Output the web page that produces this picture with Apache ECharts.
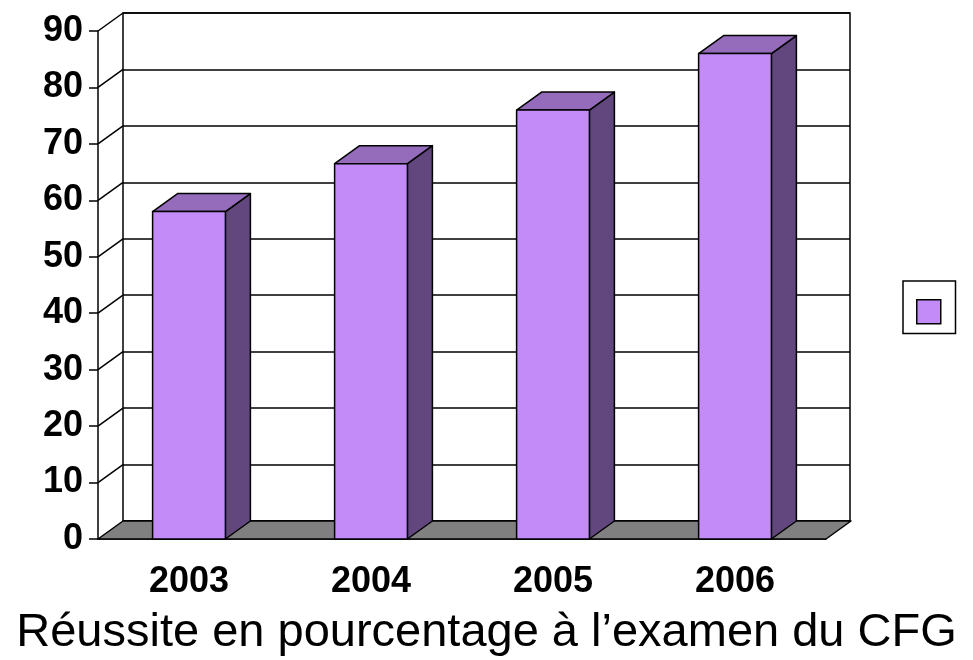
<!DOCTYPE html>
<html>
<head>
<meta charset="utf-8">
<script src="https://cdn.jsdelivr.net/npm/echarts@6/dist/echarts.min.js"></script>
<style>
  html, body { margin: 0; padding: 0; background: #fff; }
  #chart { width: 973px; height: 660px; }
</style>
</head>
<body>
<div id="chart"></div>
<script>
// data
const years = ['2003', '2004', '2005', '2006'];
const success = [58, 66.5, 76, 86];
const wallTicks = [10, 20, 30, 40, 50, 60, 70, 80, 90];

// 3d look: depth offset and face colours
const DX = 25, DY = -18;
const FRONT = '#C38BF7', TOP = '#956BBB', SIDE = '#62477E';
const FONT = '"Liberation Sans", Arial, sans-serif';
const edge = { stroke: '#000', lineWidth: 1.5, lineJoin: 'round' };

let chart = echarts.init(document.getElementById('chart'));

function renderBar(params, api) {
  const idx = api.value(0);
  const top = api.coord([idx, api.value(1)]);
  const base = api.coord([idx, 0]);
  const w = api.size([1, 0])[0] * 0.4;
  const x0 = top[0] - w / 2, x1 = top[0] + w / 2;
  const yt = top[1], yb = base[1];
  return {
    type: 'group',
    children: [
      { type: 'polygon', shape: { points: [[x1, yb], [x1, yt], [x1 + DX, yt + DY], [x1 + DX, yb + DY]] }, style: Object.assign({ fill: SIDE }, edge) },
      { type: 'polygon', shape: { points: [[x0, yt], [x0 + DX, yt + DY], [x1 + DX, yt + DY], [x1, yt]] }, style: Object.assign({ fill: TOP }, edge) },
      { type: 'rect', shape: { x: x0, y: yt, width: w, height: yb - yt }, style: Object.assign({ fill: FRONT }, edge) }
    ]
  };
}

function renderFloor(params, api) {
  const cs = params.coordSys;
  const y = api.coord([0, 0])[1];
  const xl = cs.x, xr = cs.x + cs.width;
  return {
    type: 'polygon',
    shape: { points: [[xl, y], [xr, y], [xr + DX, y + DY], [xl + DX, y + DY]] },
    style: Object.assign({ fill: '#808080' }, edge)
  };
}

function renderSideLine(params, api) {
  const cs = params.coordSys;
  const y = api.coord([0, api.value(1)])[1];
  return {
    type: 'line',
    shape: { x1: cs.x, y1: y, x2: cs.x + DX, y2: y + DY },
    style: { stroke: '#000', lineWidth: 1.5 }
  };
}

let option = {
  animation: false,
  backgroundColor: '#fff',
  title: {
    text: 'Réussite en pourcentage à l’examen du CFG',
    left: 'center',
    top: 610,
    padding: [0, 0, 0, 10],
    textStyle: { fontFamily: FONT, fontSize: 47, fontWeight: 'normal', color: '#000' }
  },
  legend: {
    left: 903,
    top: 281,
    orient: 'vertical',
    padding: [18, 14, 9, 13],
    itemWidth: 24,
    itemHeight: 24,
    borderColor: '#000',
    borderWidth: 1.5,
    backgroundColor: '#fff',
    formatter: function () { return ''; },
    data: [{ name: 'Réussite', icon: 'rect' }],
    itemStyle: { color: FRONT, borderColor: '#000', borderWidth: 1.5 }
  },
  grid: [
    { left: 98, right: 147, top: 31, bottom: 121 },
    { left: 123, right: 123, top: 13, bottom: 139, show: true, borderColor: '#000', borderWidth: 1.5, backgroundColor: 'transparent' }
  ],
  xAxis: [
    {
      type: 'category',
      gridIndex: 0,
      data: years,
      axisLine: { lineStyle: { color: '#000', width: 1.5 } },
      axisTick: { length: 9, lineStyle: { color: '#000', width: 1.5 } },
      axisLabel: { fontFamily: FONT, fontSize: 36, fontWeight: 'bold', color: '#000', margin: 25 }
    },
    { type: 'category', gridIndex: 1, data: years, show: false }
  ],
  yAxis: [
    {
      type: 'value',
      gridIndex: 0,
      min: 0,
      max: 90,
      interval: 10,
      axisLine: { show: true, lineStyle: { color: '#000', width: 1.5 } },
      axisTick: { show: true, length: 9, lineStyle: { color: '#000', width: 1.5 } },
      splitLine: { show: false },
      axisLabel: { fontFamily: FONT, fontSize: 36, fontWeight: 'bold', color: '#000', margin: 15 }
    },
    {
      type: 'value',
      gridIndex: 1,
      min: 0,
      max: 90,
      interval: 10,
      axisLine: { show: false },
      axisTick: { show: false },
      axisLabel: { show: false },
      splitLine: { show: true, lineStyle: { color: '#000', width: 1.5 } }
    }
  ],
  series: [
    {
      type: 'custom',
      name: 'floor',
      xAxisIndex: 0,
      yAxisIndex: 0,
      z: 1,
      silent: true,
      renderItem: renderFloor,
      data: [[0, 0]]
    },
    {
      type: 'custom',
      name: 'side',
      xAxisIndex: 0,
      yAxisIndex: 0,
      z: 1,
      silent: true,
      renderItem: renderSideLine,
      encode: { x: 0, y: 1 },
      data: wallTicks.map(v => [0, v])
    },
    {
      type: 'custom',
      name: 'Réussite',
      xAxisIndex: 0,
      yAxisIndex: 0,
      z: 3,
      renderItem: renderBar,
      itemStyle: { color: FRONT, borderColor: '#000', borderWidth: 1.5 },
      encode: { x: 0, y: 1 },
      data: success.map((v, i) => [i, v])
    }
  ]
};

option && chart.setOption(option);
</script>
</body>
</html>
